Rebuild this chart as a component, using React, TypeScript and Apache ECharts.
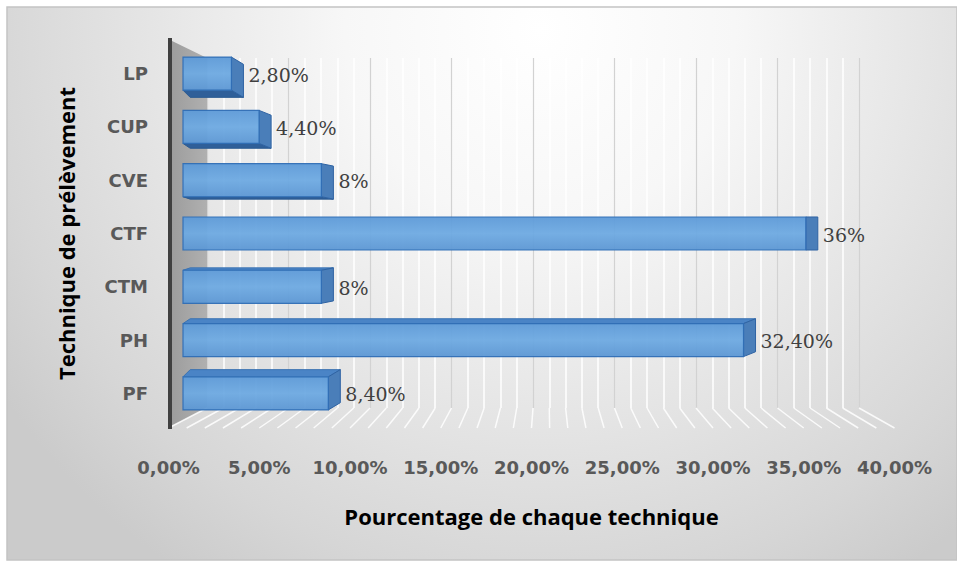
import { useEffect, useRef } from "react";
import * as echarts from "echarts";

// ---- data ----
const categories = ["PF", "PH", "CTM", "CTF", "CVE", "CUP", "LP"];
const percentages = [8.4, 32.4, 8, 36, 8, 4.4, 2.8];
const axisMax = 40;
const axisInterval = 5;
const xTitle = "Pourcentage de chaque technique";
const yTitle = "Technique de prélèvement";

// ---- layout ----
const W = 957;
const H = 562;
const BAR_LEFT = 183;
const BAR_WIDTH = 692;
const BAR_TOP = 47;
const BAR_HEIGHT = 373;
const FRONT_LEFT = 168.5;
const FRONT_WIDTH = 726;
const FLOOR_Y = 428;
const WALL_LEFT = 207;
const WALL_WIDTH = 652;
const WALL_TOP = 58;
const WALL_HEIGHT = 350;
const AXIS_X = 170;

const fmtTick = (v: number) => v.toFixed(2).replace(".", ",") + "%";
const fmtValue = (v: number) =>
  Number.isInteger(v) ? `${v}%` : v.toFixed(2).replace(".", ",") + "%";

const SANS = '"Open Sans", "Noto Sans", sans-serif';
const WIDE = '"DejaVu Sans", "Open Sans", sans-serif';

export default function App() {
  const ref = useRef<HTMLDivElement>(null);

  useEffect(() => {
    if (!ref.current) return;
    const chart = echarts.init(ref.current, null, { renderer: "svg" });

    const barRender = (params: any, api: any) => {
      const v = api.value(0);
      const c = api.value(1);
      const p0 = api.coord([0, c]);
      const p1 = api.coord([v, c]);
      const h = api.size([0, 1])[1] * 0.62;
      const x0 = p0[0];
      const x1 = p1[0];
      const yc = p0[1];
      const y0 = yc - h / 2;
      const y1 = yc + h / 2;
      const cs = params.coordSys;
      const midY = cs.y + cs.height / 2;
      const dx = 12;
      const dy = (midY - yc) * 0.045;
      const children: any[] = [];
      if (dy > 0.5) {
        children.push({
          type: "polygon",
          shape: { points: [[x0, y1], [x1, y1], [x1 + dx, y1 + dy], [x0 + dx * 0.6, y1 + dy]] },
          style: { fill: "#2f5f99", stroke: "#2a5a92", lineWidth: 1 },
        });
      } else if (dy < -0.5) {
        children.push({
          type: "polygon",
          shape: { points: [[x0, y0], [x1, y0], [x1 + dx, y0 + dy], [x0 + dx * 0.6, y0 + dy]] },
          style: { fill: "#4a84c6", stroke: "#3a72b2", lineWidth: 1 },
        });
      }
      children.push({
        type: "polygon",
        shape: { points: [[x1, y0], [x1 + dx, y0 + dy], [x1 + dx, y1 + dy], [x1, y1]] },
        style: { fill: "#4a7eb9", stroke: "#2f63a3", lineWidth: 1 },
      });
      children.push({
        type: "rect",
        shape: { x: x0, y: y0, width: x1 - x0, height: h },
        style: {
          fill: new echarts.graphic.LinearGradient(0, 0, 0, 1, [
            { offset: 0, color: "#5d9ad8" },
            { offset: 0.5, color: "#6eaae2" },
            { offset: 1, color: "#5c97d4" },
          ]),
          stroke: "#2f6eb5",
          lineWidth: 1.2,
          opacity: 0.95,
        },
      });
      children.push({
        type: "text",
        style: {
          text: fmtValue(v),
          x: x1 + 17,
          y: yc + 1,
          fill: "#404040",
          fontSize: 19,
          fontFamily: '"DejaVu Serif", serif',
          align: "left",
          verticalAlign: "middle",
        },
      });
      return { type: "group", children };
    };

    const floorRender = (_params: any, api: any) => {
      const children: any[] = [];
      const step = axisInterval / 5;
      for (let v = 0; v <= axisMax + 1e-9; v += step) {
        const b = api.coord([v, 0]);
        const fx = FRONT_LEFT + (v / axisMax) * FRONT_WIDTH;
        children.push({
          type: "line",
          shape: { x1: b[0], y1: b[1], x2: fx, y2: FLOOR_Y },
          style: { stroke: "#ffffff", lineWidth: 1.5, opacity: 0.85 },
        });
      }
      return { type: "group", children };
    };

    const option: any = {
      animation: false,
      backgroundColor: "#ffffff",
      graphic: [
        {
          type: "rect",
          z: -10,
          shape: { x: 7, y: 7, width: 950, height: 553 },
          style: {
            fill: new echarts.graphic.RadialGradient(
              540,
              30,
              650,
              [
                { offset: 0, color: "#ffffff" },
                { offset: 0.3, color: "#f7f7f7" },
                { offset: 0.6, color: "#e5e5e5" },
                { offset: 0.85, color: "#d6d6d6" },
                { offset: 1, color: "#cbcbcb" },
              ],
              true
            ),
            stroke: "#c4c4c4",
            lineWidth: 1.5,
          },
        },
        {
          type: "polygon",
          z: 1,
          shape: {
            points: [
              [AXIS_X, 40],
              [WALL_LEFT, WALL_TOP],
              [WALL_LEFT, WALL_TOP + WALL_HEIGHT],
              [AXIS_X, 427],
            ],
          },
          style: {
            fill: new echarts.graphic.LinearGradient(0, 0, 1, 0, [
              { offset: 0, color: "#9c9c9c" },
              { offset: 1, color: "#b0b0b0" },
            ]),
          },
        },
        {
          type: "line",
          z: 5,
          shape: { x1: AXIS_X, y1: 38, x2: AXIS_X, y2: 429 },
          style: { stroke: "#404040", lineWidth: 4 },
        },
      ],
      grid: [
        { left: BAR_LEFT, top: BAR_TOP, width: BAR_WIDTH, height: BAR_HEIGHT },
        { left: FRONT_LEFT, top: 430, width: FRONT_WIDTH, height: 20 },
        { left: WALL_LEFT, top: WALL_TOP, width: WALL_WIDTH, height: WALL_HEIGHT },
      ],
      xAxis: [
        { gridIndex: 0, type: "value", min: 0, max: axisMax, show: false },
        {
          gridIndex: 1,
          type: "value",
          min: 0,
          max: axisMax,
          interval: axisInterval,
          axisLine: { show: false },
          axisTick: { show: false },
          splitLine: { show: false },
          axisLabel: {
            formatter: fmtTick,
            color: "#595959",
            fontWeight: "bold",
            fontSize: 18,
            fontFamily: WIDE,
            margin: 8,
          },
          name: xTitle,
          nameLocation: "middle",
          nameGap: 55,
          nameTextStyle: { color: "#000000", fontWeight: "bold", fontSize: 22, fontFamily: SANS },
        },
        {
          gridIndex: 2,
          type: "value",
          min: 0,
          max: axisMax,
          interval: axisInterval,
          axisLine: { show: false },
          axisTick: { show: false },
          axisLabel: { show: false },
          splitLine: { show: true, lineStyle: { color: "#d2d2d2", width: 1.2 } },
          minorTick: { show: false, splitNumber: 5 },
          minorSplitLine: { show: true, lineStyle: { color: "#ffffff", width: 1.5 } },
        },
      ],
      yAxis: [
        {
          gridIndex: 0,
          type: "category",
          data: categories,
          offset: BAR_LEFT - AXIS_X,
          axisLine: { show: false },
          axisTick: { show: false },
          axisLabel: {
            color: "#595959",
            fontWeight: "bold",
            fontSize: 18,
            fontFamily: WIDE,
            margin: 22,
          },
          name: yTitle,
          nameLocation: "middle",
          nameRotate: 90,
          nameGap: 93,
          nameTextStyle: { color: "#000000", fontWeight: "bold", fontSize: 22, fontFamily: SANS },
        },
        { gridIndex: 1, type: "value", show: false },
        { gridIndex: 2, type: "value", min: 0, max: 1, show: false },
      ],
      series: [
        {
          type: "custom",
          xAxisIndex: 2,
          yAxisIndex: 2,
          clip: false,
          silent: true,
          z: 1,
          data: [[0, 0]],
          renderItem: floorRender,
        },
        {
          type: "custom",
          xAxisIndex: 0,
          yAxisIndex: 0,
          clip: false,
          z: 3,
          encode: { x: 0, y: 1 },
          data: percentages.map((p, i) => [p, i]),
          renderItem: barRender,
        },
      ],
    };

    chart.setOption(option);
    return () => chart.dispose();
  }, []);

  return (
    <div
      ref={ref}
      style={{ position: "absolute", left: 0, top: 0, width: W, height: H, background: "#fff" }}
    />
  );
}
